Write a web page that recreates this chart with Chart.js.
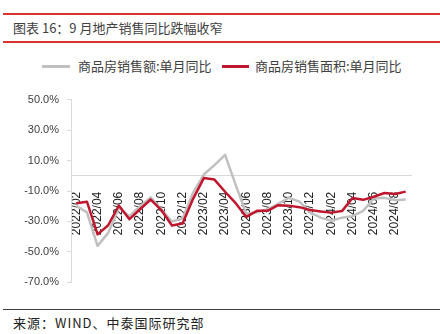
<!DOCTYPE html>
<html>
<head>
<meta charset="utf-8">
<script src="https://cdn.jsdelivr.net/npm/chart.js@4/dist/chart.umd.min.js"></script>
<style>
  html, body { margin: 0; padding: 0; background: #fff; }
  body { width: 440px; height: 334px; position: relative; overflow: hidden;
         font-family: "Noto Sans CJK SC", "Noto Sans", sans-serif; }
  .rule { position: absolute; left: 3px; right: 0; }
  .red { height: 2px; background: #d9342e; }
  .dark { height: 1px; background: #404040; }
  #title { position: absolute; left: 13px; top: 19px; font-size: 13px; color: #404040; line-height: 18px; white-space: nowrap; }
  #legend { position: absolute; top: 57px; left: 0; width: 440px; height: 18px; font-size: 13px; color: #404040; }
  .lg { position: absolute; top: 0; line-height: 18px; white-space: nowrap; }
  .sw { position: absolute; top: 8px; height: 2.5px; }
  #source { position: absolute; left: 13px; top: 314px; font-size: 13px; color: #222; letter-spacing: 1px; line-height: 18px; white-space: nowrap; }
  #wrap { position: absolute; left: 0; top: 85px; width: 440px; height: 212px; }
</style>
</head>
<body>
<div class="rule red" style="top:13px"></div>
<div id="title">图表 16：9 月地产销售同比跌幅收窄</div>
<div class="rule red" style="top:41px"></div>

<div id="legend">
  <div class="sw" style="left:42px;width:28px;background:#c0c0c0"></div>
  <div class="lg" style="left:78px">商品房销售额:单月同比</div>
  <div class="sw" style="left:222px;width:27px;background:#c0172f"></div>
  <div class="lg" style="left:255px">商品房销售面积:单月同比</div>
</div>

<div id="wrap"><canvas id="c" width="440" height="212"></canvas></div>

<div class="rule dark" style="top:309px"></div>
<div id="source">来源：WIND、中泰国际研究部</div>

<script>
// Monthly categories, 2022/02 – 2024/09
const months = [
  "2022/02","2022/03","2022/04","2022/05","2022/06","2022/07","2022/08","2022/09",
  "2022/10","2022/11","2022/12","2023/01","2023/02","2023/03","2023/04","2023/05",
  "2023/06","2023/07","2023/08","2023/09","2023/10","2023/11","2023/12","2024/01",
  "2024/02","2024/03","2024/04","2024/05","2024/06","2024/07","2024/08","2024/09"
];

// 商品房销售额: 单月同比 (%)
const salesValueYoY = [
  -19.8, -24.0, -46.0, -37.5, -21.0, -26.5, -20.0, -14.2,
  -22.0, -30.0, -28.0, -11.0, 0.8, 7.0, 13.7, -6.0,
  -25.0, -24.0, -22.0, -18.5, -14.5, -17.0, -24.0, -27.5,
  -29.5, -27.5, -26.5, -23.0, -15.0, -14.5, -16.0, -15.5
];

// 商品房销售面积: 单月同比 (%)
const salesAreaYoY = [
  -18.0, -17.0, -38.5, -32.5, -19.5, -28.5, -22.0, -15.6,
  -22.5, -32.7, -31.3, -15.0, -1.5, -2.5, -10.5, -18.0,
  -27.0, -23.0, -23.0, -19.3, -19.6, -20.6, -22.5, -23.4,
  -24.2, -23.2, -14.6, -15.8, -13.8, -11.3, -12.0, -10.4
];

// Y-axis range and step (%)
const yMin = -70, yMax = 50, yStep = 20;

new Chart(document.getElementById('c'), {
  type: 'line',
  data: {
    labels: months,
    datasets: [
      {
        label: '商品房销售面积:单月同比',
        data: salesAreaYoY,
        borderColor: '#c0172f',
        borderWidth: 2.5,
        pointRadius: 0,
        tension: 0,
        borderJoinStyle: 'round',
        order: 0
      },
      {
        label: '商品房销售额:单月同比',
        data: salesValueYoY,
        borderColor: '#c0c0c0',
        borderWidth: 2.5,
        pointRadius: 0,
        tension: 0,
        borderJoinStyle: 'round',
        order: 1
      }
    ]
  },
  options: {
    responsive: false,
    animation: false,
    layout: { padding: { top: 10, bottom: 10, left: 0, right: 29 } },
    plugins: { legend: { display: false }, tooltip: { enabled: false } },
    scales: {
      x: {
        type: 'category',
        position: { y: 0 },
        offset: true,
        grid: { display: false },
        border: { display: true, color: '#d9d9d9', width: 1 },
        ticks: {
          autoSkip: false,
          minRotation: 90,
          maxRotation: 90,
          padding: 8,
          color: '#222',
          font: { family: 'Liberation Sans', size: 12 },
          callback: function (v, i) { return i % 2 === 0 ? months[i] : ''; }
        }
      },
      y: {
        min: yMin,
        max: yMax,
        grid: { display: true, drawOnChartArea: false, drawTicks: true, tickLength: 4, color: '#d9d9d9' },
        border: { display: true, color: '#d9d9d9', width: 1 },
        ticks: {
          stepSize: yStep,
          padding: 8,
          color: '#404040',
          font: { family: 'Liberation Sans', size: 11 },
          callback: function (v) { return v.toFixed(1) + '%'; }
        },
        afterFit: function (s) { s.width = 71; }
      }
    }
  }
});
</script>
</body>
</html>
